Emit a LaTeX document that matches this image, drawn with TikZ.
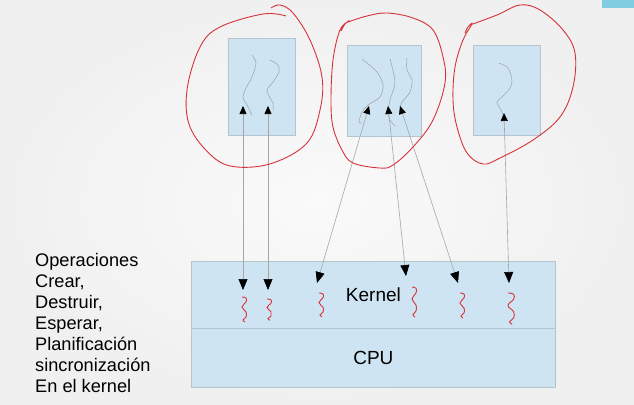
\documentclass[tikz,border=0pt]{standalone}
\usepackage{fontspec}
\setmainfont{Liberation Sans}
\usetikzlibrary{arrows.meta}
\definecolor{boxblue}{RGB}{207,228,242}
\definecolor{boxedge}{RGB}{182,196,206}
\definecolor{penred}{RGB}{214,50,58}
\definecolor{slidebg}{RGB}{240,240,240}
\definecolor{slidemid}{RGB}{250,250,250}
\definecolor{tabcyan}{RGB}{128,206,224}
\tikzset{
  procbox/.style={draw=boxedge,fill=boxblue,line width=0.8pt,minimum width=67pt,minimum height=97pt,anchor=north west,inner sep=0pt},
  layerbox/.style={draw=boxedge,fill=boxblue,line width=0.8pt,minimum width=364pt,anchor=north west,inner sep=0pt,font=\fontsize{19}{22}\selectfont},
  uthread/.style={draw=gray!75,line width=0.5pt},
  sysarrow/.style={draw=gray!70,line width=0.6pt,{Triangle[black,length=8pt,width=7pt]}-{Triangle[black,length=11pt,width=9pt]}},
  pen/.style={draw=penred,line width=0.9pt},
  kthread/.pic={\draw[pen] plot[smooth,tension=0.7] coordinates{(0,0) (4,1) (4,5) (0,10) (4,15) (4,20) (1,23) (3,25)};}
}
\begin{document}
\begin{tikzpicture}[x=1pt,y=-1pt]
  \useasboundingbox (0,0) rectangle (634,404);
  \shade[inner color=slidemid,outer color=slidebg] (0,0) rectangle (634,404);
  \fill[tabcyan] (602,0) rectangle (634,8);
  % processes
  \node[procbox] (proc1) at (228,38) {};
  \node[procbox,minimum width=74pt,minimum height=91pt] (proc2) at (347,45) {};
  \node[procbox,minimum height=90pt] (proc3) at (473,45) {};
  \node[layerbox,minimum height=67pt] (kernel) at (191,261) {Kernel};
  \node[layerbox,minimum height=59pt] (cpu) at (191,328) {CPU};
  % user threads
  \draw[uthread] plot[smooth] coordinates{(252,55) (256,63) (252,77) (245,90) (243,98) (247,105) (252,115)};
  \draw[uthread] plot[smooth] coordinates{(270,60) (278,65) (279,72) (273,82) (267,90) (270,98) (273,103) (273,110)};
  \draw[uthread] plot[smooth] coordinates{(362,59) (377,72) (383,85) (380,97) (368,105) (362,112) (359,122) (362,123)};
  \draw[uthread] plot[smooth] coordinates{(390,59) (395,82) (390,100) (388,112) (390,120) (395,126)};
  \draw[uthread] plot[smooth] coordinates{(407,58) (407,70) (412,80) (410,92) (402,102) (400,107)};
  \draw[uthread] plot[smooth] coordinates{(499,63) (508,68) (512,80) (510,88) (502,97) (497,102) (502,112) (505,120)};
  % kernel threads
  \pic at (242,297) {kthread};
  \pic[yscale=0.85] at (267,299) {kthread};
  \pic[yscale=0.95] at (319,293) {kthread};
  \pic[yscale=1.2] at (412,287) {kthread};
  \pic at (460,293) {kthread};
  \pic[xscale=1.4,yscale=1.25] at (508,293) {kthread};
  % system calls
  \coordinate (u1) at (243,106); \coordinate (k1) at (243,290);
  \coordinate (u2) at (268,106); \coordinate (k2) at (268,290);
  \coordinate (u3) at (369,106); \coordinate (k3) at (317,283);
  \coordinate (u4) at (388,106); \coordinate (k4) at (406,276);
  \coordinate (u5) at (400,106); \coordinate (k5) at (458,283);
  \coordinate (u6) at (504,113); \coordinate (k6) at (509,283);
  \draw[sysarrow] (u1) -- (k1);
  \draw[sysarrow] (u2) -- (k2);
  \draw[sysarrow] (u3) -- (k3);
  \draw[sysarrow] (u4) -- (k4);
  \draw[sysarrow] (u5) -- (k5);
  \draw[sysarrow] (u6) -- (k6);
  % hand-drawn rings
  \draw[pen] plot[smooth,tension=0.6] coordinates{(286,16) (263,14) (220,27) (200,47) (187,90) (190,127) (213,157) (237,167) (273,163) (307,143) (320,110) (322,77) (310,40) (293,13) (280,5) (271,8)};
  \draw[pen] plot[smooth,tension=0.6] coordinates{(348,22) (367,16) (387,13) (413,18) (433,30) (443,57) (445,83) (433,120) (413,147) (393,165) (380,168) (353,163) (342,150) (333,127) (331,100) (333,60) (340,30) (349,21) (345,24) (341,31)};
  \draw[pen] plot[smooth,tension=0.6] coordinates{(470,25) (497,15) (520,5) (540,10) (563,30) (575,53) (573,87) (560,117) (533,140) (500,158) (483,164) (467,153) (457,127) (453,100) (455,67) (463,40) (472,24) (468,27) (465,33)};
  % notes
  \node[anchor=base west,align=left,inner sep=0pt,font=\fontsize{18.2}{20.9}\selectfont] (ops) at (35,392)
    {Operaciones\\Crear,\\Destruir,\\Esperar,\\Planificación\\sincronización\\En el kernel};
\end{tikzpicture}
\end{document}
